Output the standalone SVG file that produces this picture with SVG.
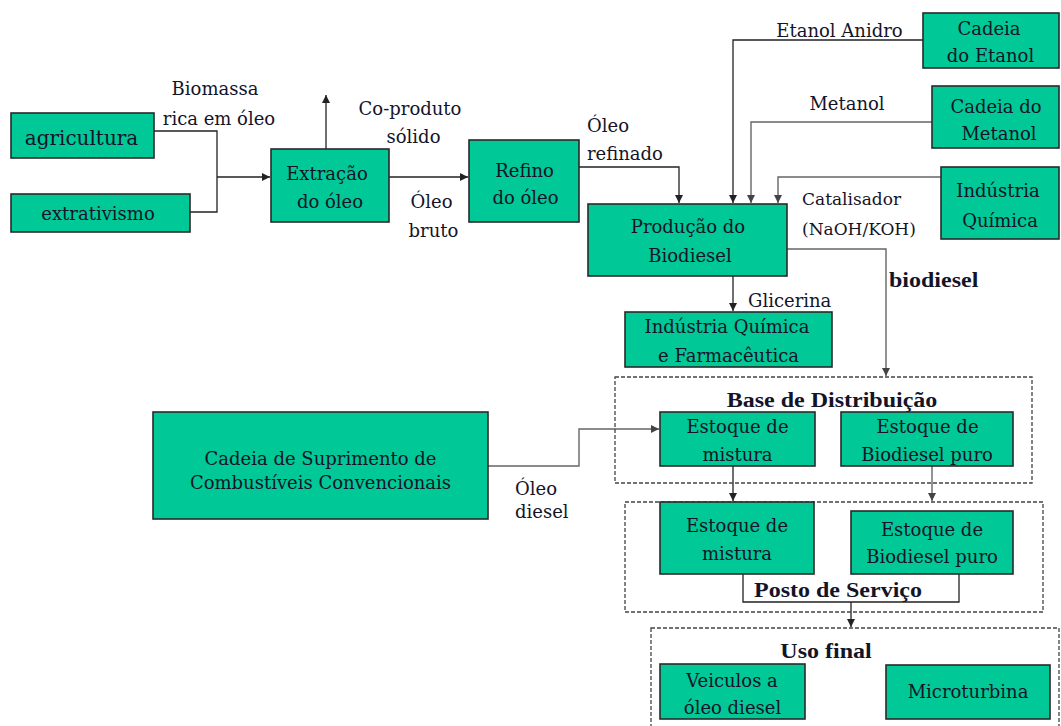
<svg xmlns="http://www.w3.org/2000/svg" width="1061" height="726" viewBox="0 0 1061 726">
<defs>
<marker id="ar" markerUnits="userSpaceOnUse" markerWidth="9" markerHeight="8" refX="8" refY="4" orient="auto"><path d="M0,0 L8,4 L0,8 z" fill="#222"/></marker>
<marker id="ag" markerUnits="userSpaceOnUse" markerWidth="9" markerHeight="8" refX="8" refY="4" orient="auto"><path d="M0,0 L8,4 L0,8 z" fill="#444"/></marker>
</defs>
<style>
.b{fill:#00C896;stroke:#2a2a2a;stroke-width:1.6}
.d{fill:none;stroke:#444;stroke-width:1.3;stroke-dasharray:4 2}
.t{font-family:'DejaVu Serif','Liberation Serif',serif;font-size:18px;fill:#141428;text-anchor:middle}
.s{text-anchor:start}
.sm{font-size:17px}
.bold{font-family:'Liberation Serif',serif;font-size:20px;font-weight:bold}
.c{fill:none;stroke:#222;stroke-width:1.3}
.g{fill:none;stroke:#666;stroke-width:1.4}
</style>
<rect width="1061" height="726" fill="#fff"/>

<g id="connectors">
<path class="c" d="M154,131 H217 V212 H190"/>
<path class="c" d="M217,177 H270" marker-end="url(#ar)"/>
<path class="c" d="M326,149 V95" marker-end="url(#ar)"/>
<path class="c" d="M389,177 H468" marker-end="url(#ar)"/>
<path class="c" d="M579,167 H679 V203" marker-end="url(#ar)"/>
<path class="c" d="M923,40 H733 V203" marker-end="url(#ar)"/>
<path class="g" d="M932,122 H751 V203" marker-end="url(#ag)"/>
<path class="g" d="M941,177 H778 V203" marker-end="url(#ag)"/>
<path class="g" d="M787,249 H886 V376" marker-end="url(#ag)"/>
<path class="c" d="M733,276 V311" marker-end="url(#ar)"/>
<path class="g" d="M488,466 H579 V429 H659" marker-end="url(#ag)"/>
<path class="c" d="M733,466 V501" marker-end="url(#ar)"/>
<path class="g" d="M932,466 V501" marker-end="url(#ag)"/>
<path class="c" d="M743,574 V602 H959 V574"/>
<path class="c" d="M851,602 V627" marker-end="url(#ar)"/>
</g>

<g id="labels">
<text class="t" x="215" y="95">Biomassa</text>
<text class="t" x="219" y="125">rica em óleo</text>
<text class="t" x="410" y="115">Co-produto</text>
<text class="t" x="413.5" y="143">sólido</text>
<text class="t" x="431.5" y="208">Óleo</text>
<text class="t" x="433.5" y="237">bruto</text>
<text class="t s" x="587" y="132">Óleo</text>
<text class="t s" x="587" y="160">refinado</text>
<text class="t" x="839.5" y="37">Etanol Anidro</text>
<text class="t" x="847" y="110">Metanol</text>
<text class="t s sm" x="802" y="205">Catalisador</text>
<text class="t s sm" x="802" y="235">(NaOH/KOH)</text>
<text class="t s bold" transform="translate(889,287) scale(1.2,1)">biodiesel</text>
<text class="t s" x="748" y="307">Glicerina</text>
<text class="t s" x="515" y="495">Óleo</text>
<text class="t s" x="515" y="518">diesel</text>
</g>

<g id="agricultura">
<rect class="b" x="11" y="113" width="143" height="45"/>
<text class="t" x="81.5" y="145" style="font-size:20px">agricultura</text>
</g>
<g id="extrativismo">
<rect class="b" x="11" y="194" width="179" height="38"/>
<text class="t" x="98" y="220">extrativismo</text>
</g>
<g id="extracao">
<rect class="b" x="271" y="149" width="118" height="73"/>
<text class="t" x="327" y="180">Extração</text>
<text class="t" x="330" y="208">do óleo</text>
</g>
<g id="refino">
<rect class="b" x="469" y="140" width="110" height="82"/>
<text class="t" x="524.5" y="177">Refino</text>
<text class="t" x="525.5" y="204">do óleo</text>
</g>
<g id="producao">
<rect class="b" x="588" y="204" width="199" height="72"/>
<text class="t" x="688" y="233">Produção do</text>
<text class="t" x="690" y="262">Biodiesel</text>
</g>
<g id="cadeia-etanol">
<rect class="b" x="923" y="13" width="136" height="55"/>
<text class="t" x="989" y="35">Cadeia</text>
<text class="t" x="990.5" y="62">do Etanol</text>
</g>
<g id="cadeia-metanol">
<rect class="b" x="932" y="86" width="127" height="62"/>
<text class="t" x="996" y="113">Cadeia do</text>
<text class="t" x="999" y="140">Metanol</text>
</g>
<g id="industria-quimica">
<rect class="b" x="941" y="167" width="118" height="72"/>
<text class="t" x="998" y="197">Indústria</text>
<text class="t" x="1000" y="227">Química</text>
</g>
<g id="industria-farma">
<rect class="b" x="625" y="312" width="207" height="55"/>
<text class="t" x="727" y="333">Indústria Química</text>
<text class="t" x="728.5" y="362">e Farmacêutica</text>
</g>
<g id="base-distribuicao">
<rect class="d" x="615" y="377" width="417" height="106"/>
<text class="t bold" transform="translate(832,407) scale(1.2,1)">Base de Distribuição</text>
</g>
<g id="base-mistura">
<rect class="b" x="660" y="412" width="155" height="54"/>
<text class="t" x="737.5" y="433">Estoque de</text>
<text class="t" x="737.5" y="461">mistura</text>
</g>
<g id="base-puro">
<rect class="b" x="841" y="412" width="172" height="54"/>
<text class="t" x="927.5" y="433">Estoque de</text>
<text class="t" x="927" y="461">Biodiesel puro</text>
</g>
<g id="cadeia-suprimento">
<rect class="b" x="153" y="412" width="335" height="107"/>
<text class="t" x="320.5" y="465">Cadeia de Suprimento de</text>
<text class="t" x="320.5" y="489">Combustíveis Convencionais</text>
</g>
<g id="posto-servico">
<rect class="d" x="625" y="502" width="418" height="110"/>
<text class="t bold" transform="translate(838,597) scale(1.2,1)">Posto de Serviço</text>
</g>
<g id="posto-mistura">
<rect class="b" x="660" y="502" width="154" height="72"/>
<text class="t" x="737" y="532">Estoque de</text>
<text class="t" x="737" y="560">mistura</text>
</g>
<g id="posto-puro">
<rect class="b" x="851" y="511" width="162" height="63"/>
<text class="t" x="932" y="536">Estoque de</text>
<text class="t" x="932" y="563">Biodiesel puro</text>
</g>
<g id="uso-final">
<rect class="d" x="651" y="628" width="408" height="110"/>
<text class="t bold" transform="translate(826,658) scale(1.2,1)">Uso final</text>
</g>
<g id="veiculos">
<rect class="b" x="660" y="664" width="145" height="55"/>
<text class="t" x="732" y="687">Veiculos a</text>
<text class="t" x="732.5" y="714">óleo diesel</text>
</g>
<g id="microturbina">
<rect class="b" x="886" y="665" width="164" height="54"/>
<text class="t" x="968" y="698">Microturbina</text>
</g>
</svg>
